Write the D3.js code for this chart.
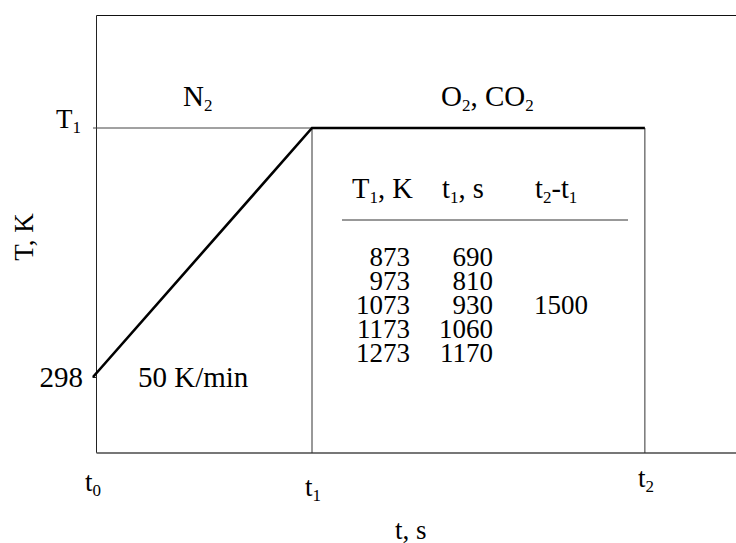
<!DOCTYPE html>
<html>
<head>
<meta charset="utf-8">
<script src="https://cdn.jsdelivr.net/npm/d3@7"></script>
<style>
  body { margin: 0; background: #fff; }
  text { font-family: "Liberation Serif", "Times New Roman", serif; fill: #000; }
</style>
</head>
<body>
<script>
// Schematic temperature programme (times in relative units, temps in K)
const timeKeys = [0, 1, 2.52];          // t0, t1, t2
const timeSubs = ["0", "1", "2"];
const tempStart = 298;
const tempHold = 1073;                  // symbolic T1 level
const profileTime = [0, 1, 2.52];
const profileTemp = [298, 1073, 1073];

// Table values
const tableT1 = [873, 973, 1073, 1173, 1273];
const tableTime1 = [690, 810, 930, 1060, 1170];
const holdTime = 1500;

const width = 736, height = 543;
const fs = 27, bigFs = 29, subFs = 17;
const frame = {left: 96.5, top: 15.5, right: 745, bottom: 453};

const svg = d3.select("body").append("svg")
  .attr("width", width)
  .attr("height", height);

const x = d3.scaleLinear().domain([0, 1]).range([93, 312]);
const y = d3.scaleLinear().domain([tempStart, tempHold]).range([377, 128]);

// Frame
svg.append("line").attr("x1", frame.left).attr("x2", frame.right)
  .attr("y1", frame.top).attr("y2", frame.top)
  .attr("stroke", "#111").attr("stroke-width", 1);
svg.append("line").attr("x1", frame.left).attr("x2", frame.left)
  .attr("y1", frame.top).attr("y2", frame.bottom)
  .attr("stroke", "#222").attr("stroke-width", 1);
svg.append("line").attr("x1", frame.left).attr("x2", frame.right)
  .attr("y1", frame.bottom).attr("y2", frame.bottom)
  .attr("stroke", "#777").attr("stroke-width", 2);

// Y axis tick (labels drawn separately with subscripts)
svg.append("g")
  .attr("transform", "translate(" + frame.left + ",0)")
  .call(d3.axisLeft(y).tickValues([tempStart]).tickSize(4).tickFormat(""))
  .call(g => g.select(".domain").remove())
  .call(g => g.selectAll("text").remove())
  .selectAll("line").attr("stroke", "#222");

// T1 guide line and vertical lines at t1, t2
svg.append("line")
  .attr("x1", x(0)).attr("x2", x(timeKeys[1]))
  .attr("y1", y(tempHold)).attr("y2", y(tempHold))
  .attr("stroke", "#444").attr("stroke-width", 1);
svg.selectAll(".vline").data(timeKeys.slice(1)).enter()
  .append("line")
  .attr("x1", d => x(d)).attr("x2", d => x(d))
  .attr("y1", y(tempHold)).attr("y2", frame.bottom)
  .attr("stroke", "#333").attr("stroke-width", 1);

// Temperature profile
const profile = profileTime.map((t, i) => [t, profileTemp[i]]);
svg.append("path")
  .datum(profile)
  .attr("d", d3.line().x(d => x(d[0])).y(d => y(d[1])))
  .attr("fill", "none")
  .attr("stroke", "#000")
  .attr("stroke-width", 2.6);

// helper: text with subscripts
function subText(parent, xPos, yPos, parts, anchor, size) {
  const t = parent.append("text")
    .attr("x", xPos).attr("y", yPos)
    .attr("font-size", size || fs)
    .attr("text-anchor", anchor || "start");
  let shift = 0;
  parts.forEach(p => {
    if (p.sub) {
      t.append("tspan").attr("font-size", subFs).attr("dy", 5 - shift).text(p.sub);
      shift = 5;
    } else {
      t.append("tspan").attr("dy", -shift).text(p.txt);
      shift = 0;
    }
  });
  return t;
}

// Y tick labels
svg.append("text").attr("x", 83).attr("y", 387)
  .attr("font-size", bigFs).attr("text-anchor", "end").text(tempStart);
subText(svg, 81, 128, [{txt: "T"}, {sub: "1"}], "end");

// X tick labels
const xLabelBase = [491, 496, 487];
timeKeys.forEach((t, i) => {
  subText(svg, x(t) - 8 + (i === 0 ? 0 : 1), xLabelBase[i], [{txt: "t"}, {sub: timeSubs[i]}]);
});

// Axis titles
svg.append("text")
  .attr("transform", "translate(33,237) rotate(-90)")
  .attr("font-size", fs).attr("text-anchor", "middle")
  .text("T, K");
svg.append("text").attr("x", 395).attr("y", 539)
  .attr("font-size", fs).text("t, s");

// Gas labels
subText(svg, 183, 106, [{txt: "N"}, {sub: "2"}], "start", bigFs);
subText(svg, 441, 106, [{txt: "O"}, {sub: "2"}, {txt: ", CO"}, {sub: "2"}], "start", bigFs);
svg.append("text").attr("x", 138).attr("y", 387)
  .attr("font-size", bigFs).text("50 K/min");

// Table
subText(svg, 352, 198, [{txt: "T"}, {sub: "1"}, {txt: ", K"}], "start", 28.5);
subText(svg, 442, 198, [{txt: "t"}, {sub: "1"}, {txt: ", s"}], "start", 28.5);
subText(svg, 535, 198, [{txt: "t"}, {sub: "2"}, {txt: "-t"}, {sub: "1"}], "start", 28.5);
svg.append("line").attr("x1", 342).attr("x2", 628)
  .attr("y1", 220).attr("y2", 220)
  .attr("stroke", "#333").attr("stroke-width", 1);

const rowY = d3.scaleLinear().domain([0, 1]).range([266, 290]);
svg.selectAll(".c1").data(tableT1).enter().append("text")
  .attr("x", 410).attr("y", (d, i) => rowY(i))
  .attr("font-size", fs).attr("text-anchor", "end").text(d => d);
svg.selectAll(".c2").data(tableTime1).enter().append("text")
  .attr("x", 493).attr("y", (d, i) => rowY(i))
  .attr("font-size", fs).attr("text-anchor", "end").text(d => d);
svg.append("text").attr("x", 588).attr("y", rowY(2))
  .attr("font-size", fs).attr("text-anchor", "end").text(holdTime);
</script>
</body>
</html>
